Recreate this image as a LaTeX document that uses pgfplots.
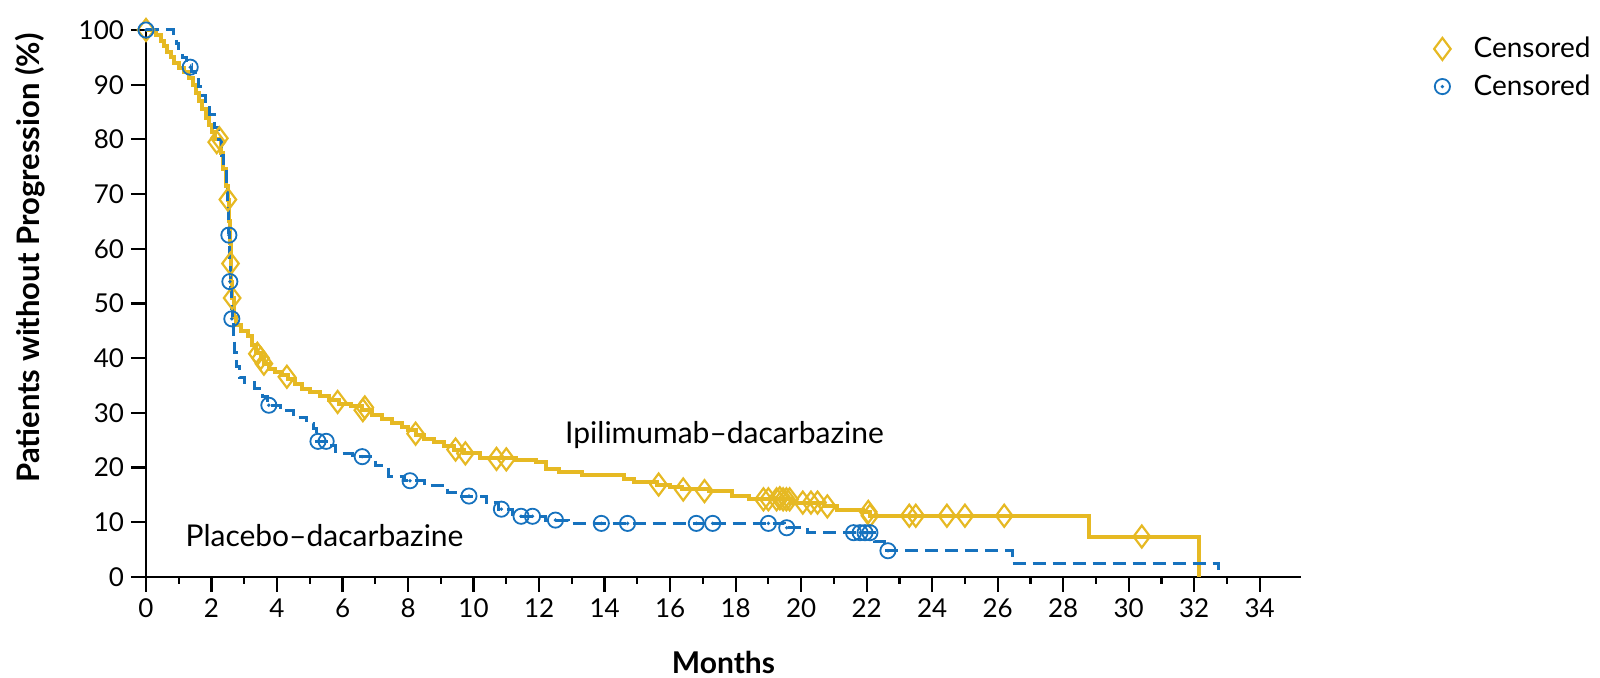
\documentclass[border=0pt]{standalone}
\usepackage{fontspec}
\setmainfont{Lato}
\usepackage{pgfplots}
\pgfplotsset{compat=1.18}
\definecolor{ipi}{RGB}{230,185,35}
\definecolor{pla}{RGB}{22,114,190}
\pgfdeclareplotmark{odot}{%
  \pgfpathcircle{\pgfpointorigin}{\pgfplotmarksize}\pgfusepathqstroke
  \pgfpathcircle{\pgfpointorigin}{0.25\pgfplotmarksize}\pgfusepathqfill}
\begin{document}
\begin{tikzpicture}
\useasboundingbox (-73pt,-50.5pt) rectangle (727pt,288.5pt);
\begin{axis}[
  at={(0pt,0pt)}, anchor=south west,
  scale only axis, width=577.5pt, height=273.5pt,
  xmin=0, xmax=35.26, ymin=0, ymax=100,
  clip=false,
  separate axis lines,
  axis x line*=bottom, axis y line*=left,
  axis line style={-, line width=1.4pt, black},
  xtick={0,2,...,34}, minor xtick={1,3,...,33},
  ytick={0,10,...,100},
  tick align=outside,
  major tick length=7.5pt, minor tick length=3.5pt,
  tick style={black, line width=1.1pt},
  /pgf/number format/assume math mode=true,
  ticklabel style={font=\fontsize{13}{15}\selectfont},
  xlabel={\textbf{Months}},
  ylabel={\textbf{Patients without Progression (\%)}},
  xlabel style={at={(axis description cs:0.5,-0.157)}, anchor=center, font=\fontsize{15}{17}\selectfont},
  ylabel style={at={(axis description cs:-0.1004,0.583)}, anchor=center, rotate=0, font=\fontsize{15.5}{17}\selectfont},
  legend style={draw=none, fill=none, at={(1.2545,0.995)}, anchor=north east,
    inner sep=0pt, row sep=3pt, font=\fontsize{14}{16}\selectfont,
    /tikz/every odd column/.append style={column sep=9.5pt}},
  legend cell align=left,
]
\addplot[const plot, ipi, line width=2pt, forget plot] coordinates {
(0,100)(0.3,99)(0.45,98)(0.55,97)(0.65,96)(0.75,95)(0.85,94)(1.0,93)(1.15,92.3)
(1.3,91.3)(1.42,90)(1.52,88.5)(1.62,87)(1.72,85.5)(1.82,84)(1.92,82.6)(2.02,81.3)
(2.12,80)(2.28,77.5)(2.36,74.5)(2.44,71.5)(2.5,69)(2.52,65)(2.55,61)(2.58,57.3)
(2.6,54)(2.63,51)(2.68,47.5)(2.75,46)(2.9,45)(3.1,44)(3.25,42.5)(3.35,41)(3.5,40)
(3.6,39)(3.75,38)(3.95,37.5)(4.15,36.9)(4.35,36.2)(4.55,35.3)(4.75,34.4)(5.0,33.8)
(5.3,33)(5.6,32.3)(5.9,31.7)(6.25,31.2)(6.6,30.5)(6.9,29.7)(7.2,28.8)(7.5,28.2)
(7.8,27.5)(8.0,26.8)(8.25,26)(8.5,25.3)(8.8,24.7)(9.1,24)(9.4,23.3)(9.7,22.6)
(10.2,21.7)(11.3,21.3)(11.9,21.0)(12.2,19.8)(12.6,19.2)(13.3,18.6)(14.6,18.0)
(14.9,17.4)(15.6,16.9)(16.0,16.5)(16.35,16.0)(17.2,15.7)(17.9,14.8)(18.4,14.2)
(19.7,13.6)(20.7,12.9)(21.1,12.3)(21.9,11.9)(22.1,11.2)(28.8,7.4)(32.15,0)};
\addplot[const plot, pla, line width=1.5pt, dash pattern=on 6.5pt off 3.5pt, forget plot] coordinates {
(0,100)(0.85,98.7)(0.92,97.5)(1.0,96.2)(1.1,95)(1.25,93.7)(1.4,92.5)(1.5,91)(1.6,89.6)
(1.72,88)(1.82,86.3)(1.95,84.5)(2.08,82.2)(2.2,80)(2.3,77)(2.38,74.5)(2.45,72)(2.5,68)
(2.52,63)(2.55,58)(2.57,53)(2.6,49)(2.63,46.5)(2.66,43.5)(2.7,41)(2.75,38.5)(2.85,36.5)
(3.0,35.5)(3.3,34.5)(3.55,33)(3.7,31.4)(4.1,30.4)(4.5,29.2)(4.9,28.1)(5.1,27.1)
(5.2,24.8)(5.6,24.0)(5.8,22.6)(6.3,22.0)(7.0,20.3)(7.4,18.4)(7.9,17.6)(8.5,16.8)
(9.2,15.5)(9.5,14.8)(10.4,13.7)(10.75,12.4)(11.2,11.1)(12.2,10.4)(12.9,9.8)(19.5,9.0)
(20.2,8.1)(22.25,6.5)(22.55,4.8)(26.45,2.5)(32.75,0)};
\addplot[only marks, mark=diamond, mark size=5.5pt, mark options={draw=ipi, line width=1.1pt, fill=none}] coordinates {
(0,100)(2.16,79.5)(2.24,80.2)(2.5,69)(2.58,57.3)(2.63,51)(3.4,40.8)(3.5,40)(3.6,39)
(4.3,36.6)(5.85,32.0)(6.62,30.5)(6.68,31)(8.23,26.2)(9.45,23.3)(9.75,22.6)(10.7,21.6)
(11.0,21.5)(15.65,16.9)(16.4,16.0)(17.05,15.7)(18.85,14.2)(19.0,14.2)(19.25,14.2)
(19.35,14.4)(19.45,14.2)(19.55,14.2)(19.65,14.2)(20.05,13.6)(20.3,13.6)(20.5,13.6)
(20.8,12.9)(22.05,11.9)(22.1,11.2)(23.3,11.2)(23.5,11.2)(24.45,11.2)(25.0,11.2)
(26.2,11.2)(30.4,7.4)};
\addplot[only marks, mark=odot, mark size=3.8pt, mark options={draw=pla, fill=pla, line width=0.9pt}] coordinates {
(0,100)(1.35,93.2)(2.53,62.5)(2.56,54)(2.62,47.2)(3.75,31.4)(5.25,24.8)(5.5,24.8)
(6.6,22.0)(8.06,17.6)(9.86,14.8)(10.85,12.4)(11.45,11.1)(11.8,11.1)(12.5,10.4)
(13.9,9.8)(14.7,9.8)(16.8,9.8)(17.3,9.8)(19.0,9.8)(19.56,9.0)(21.6,8.1)(21.8,8.1)
(21.95,8.1)(22.1,8.1)(22.65,4.8)};
\legend{Censored, Censored}
\node[font=\fontsize{15}{17}\selectfont] at (axis cs:17.66,25.97) {Ipilimumab--dacarbazine};
\node[font=\fontsize{15}{17}\selectfont] at (axis cs:5.45,7.54) {Placebo--dacarbazine};
\end{axis}
\end{tikzpicture}
\end{document}
